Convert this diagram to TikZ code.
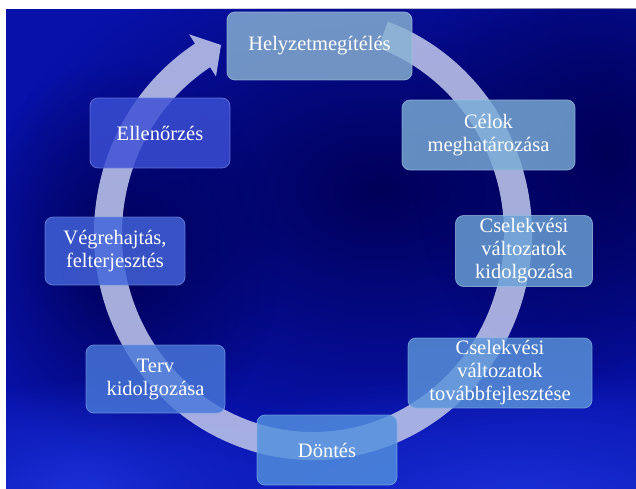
\documentclass[tikz,border=0pt]{standalone}
\usepackage{fontspec}
\setmainfont{Liberation Serif}
\newfontfamily\boxfont{Liberation Serif}
\usetikzlibrary{fadings}
\tikzfading[name=blobfade, inner color=transparent!0, outer color=transparent!100]
\definecolor{bgmid}{HTML}{0812AA}
\definecolor{bgdark}{HTML}{000058}
\definecolor{bglight}{HTML}{1A30D8}
\definecolor{ringc}{HTML}{B4BCE6}
\definecolor{cH}{HTML}{88B2D2}
\definecolor{cC}{HTML}{7AACD6}
\definecolor{cK}{HTML}{6AA2D6}
\definecolor{cT}{HTML}{5A94DA}
\definecolor{cD}{HTML}{5290DE}
\definecolor{cP}{HTML}{4878DA}
\definecolor{cV}{HTML}{4264DA}
\definecolor{cE}{HTML}{3C50D6}
\begin{document}
\begin{tikzpicture}[x=1pt,y=-1pt,
  cbox/.style={rounded corners=8pt, fill=#1, fill opacity=0.82, text opacity=1,
    draw=#1!70!white, draw opacity=0.7, line width=0.8pt,
    align=center, text=white, inner sep=0pt,
    font=\boxfont\fontsize{20.5}{23}\selectfont},
  ring/.style={fill=ringc, fill opacity=0.92}]
\useasboundingbox (0,0) rectangle (636,489);
\fill[white] (0,0) rectangle (636,489);
\fill[bgmid] (6,9) rectangle (636,489);
\begin{scope}
\clip (6,9) rectangle (636,489);
\fill[bgdark, path fading=blobfade] (380,190) ellipse [x radius=380, y radius=250];
\fill[bgdark, path fading=blobfade] (610,150) ellipse [x radius=200, y radius=260];
\fill[bgdark, path fading=blobfade] (120,260) ellipse [x radius=160, y radius=200];
\fill[bglight, path fading=blobfade] (520,500) ellipse [x radius=380, y radius=130];
\fill[bglight, path fading=blobfade] (80,490) ellipse [x radius=220, y radius=110];
\end{scope}
% circular arrow
\coordinate (ob) at (189.1,34.3);
\coordinate (tip) at (221,45);
\coordinate (ib) at (216,76.5);
\fill[ring] ({313+219*cos(-70)},{234+226*sin(-70)})
  arc[start angle=-70, end angle=237.4, x radius=219, y radius=226]
  -- (ob) -- (tip) -- (ib)
  -- ({313+191*cos(237.4)},{234+198*sin(237.4)})
  arc[start angle=237.4, end angle=-70, x radius=191, y radius=198] -- cycle;
% boxes
\node[cbox=cH, minimum width=185pt, minimum height=68pt] (h) at (319.5,46) {Helyzetmegítélés};
\node[cbox=cC, minimum width=173pt, minimum height=70pt] (c) at (488.5,135) {Célok\\meghatározása};
\node[cbox=cK, minimum width=137pt, minimum height=71pt] (k) at (524,251) {Cselekvési\\változatok\\kidolgozása};
\node[cbox=cT, minimum width=184pt, minimum height=70pt] (t) at (500,373) {Cselekvési\\változatok\\továbbfejlesztése};
\node[cbox=cD, minimum width=140pt, minimum height=70pt] (d) at (327,450) {Döntés};
\node[cbox=cP, minimum width=139pt, minimum height=68pt] (p) at (155.5,379) {Terv\\kidolgozása};
\node[cbox=cV, minimum width=140pt, minimum height=68pt] (v) at (115,251) {Végrehajtás,\\felterjesztés};
\node[cbox=cE, minimum width=140pt, minimum height=70pt] (e) at (160,133) {Ellenőrzés};
\end{tikzpicture}
\end{document}
